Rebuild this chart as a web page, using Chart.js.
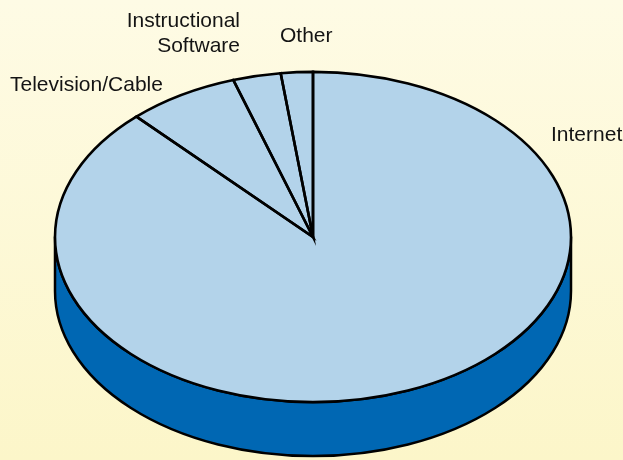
<!DOCTYPE html>
<html><head><meta charset="utf-8">
<script src="https://cdn.jsdelivr.net/npm/chart.js@4.4.1/dist/chart.umd.min.js"></script>
<style>
html,body{margin:0;padding:0;}
body{width:623px;height:460px;background:linear-gradient(180deg,#fefbe5 0%,#fcf6c9 100%);overflow:hidden;}
canvas{display:block;}
</style></head><body>
<canvas id="c" width="623" height="460"></canvas>
<script>
// ---- data ----
const categories = ['Internet', 'Television/Cable', 'Instructional Software', 'Other'];
const shares = [88, 7, 3, 2];
const labelLines = [['Internet'], ['Television/Cable'], ['Instructional', 'Software'], ['Other']];

// ---- style / layout ----
const TOP_COLOR = '#b3d3ea';
const SIDE_COLOR = '#0067b3';
const EDGE = '#000000';
const TILT = 0.64;     // vertical squash of the pie top
const DEPTH = 54;      // thickness of the pie in px
const RADIUS = 258;
const labelAnchors = [
  {x: 551, y: 141, align: 'left'},
  {x: 10,  y: 91,  align: 'left'},
  {x: 240, y: 27,  align: 'right'},
  {x: 280, y: 42,  align: 'left'}
];
const LABEL_FONT = '21px "Liberation Sans", Arial, Helvetica, sans-serif';
const LINE_H = 25;

function geom(a) {
  return a.getProps(['x', 'y', 'outerRadius', 'startAngle', 'endAngle'], true);
}
function squash(ctx, x, y) {
  ctx.translate(x, y); ctx.scale(1, TILT); ctx.translate(-x, -y);
}

const pie3d = {
  id: 'pie3d',
  beforeDatasetsDraw(chart) {
    const ctx = chart.ctx;
    const arcs = chart.getDatasetMeta(0).data;
    // side walls (front half only)
    arcs.forEach(a => {
      const g = geom(a);
      const ry = g.outerRadius * TILT;
      for (let k = -1; k <= 2; k++) {
        const lo = Math.max(g.startAngle, 2 * Math.PI * k);
        const hi = Math.min(g.endAngle, 2 * Math.PI * k + Math.PI);
        if (hi > lo) {
          ctx.save();
          ctx.beginPath();
          ctx.ellipse(g.x, g.y, g.outerRadius, ry, 0, lo, hi, false);
          ctx.ellipse(g.x, g.y + DEPTH, g.outerRadius, ry, 0, hi, lo, true);
          ctx.closePath();
          ctx.fillStyle = SIDE_COLOR;
          ctx.fill();
          ctx.lineWidth = 2.5;
          ctx.lineJoin = 'round';
          ctx.strokeStyle = EDGE;
          ctx.stroke();
          ctx.restore();
        }
      }
    });
    const g0 = geom(arcs[0]);
    ctx.save();
    squash(ctx, g0.x, g0.y);
  },
  afterDatasetsDraw(chart) {
    const ctx = chart.ctx;
    ctx.restore();
    const arcs = chart.getDatasetMeta(0).data;
    // slice outlines with uniform line width
    arcs.forEach(a => {
      const g = geom(a);
      ctx.save();
      squash(ctx, g.x, g.y);
      ctx.beginPath();
      ctx.moveTo(g.x, g.y);
      ctx.arc(g.x, g.y, g.outerRadius, g.startAngle, g.endAngle, false);
      ctx.closePath();
      ctx.restore();
      ctx.save();
      ctx.lineWidth = 2.6;
      ctx.lineJoin = 'miter';
      ctx.strokeStyle = EDGE;
      ctx.stroke();
      ctx.restore();
    });
    // category labels
    ctx.save();
    ctx.font = LABEL_FONT;
    ctx.fillStyle = '#141414';
    ctx.textBaseline = 'alphabetic';
    labelLines.forEach((lines, i) => {
      const p = labelAnchors[i];
      ctx.textAlign = p.align;
      lines.forEach((t, j) => ctx.fillText(t, p.x, p.y + j * LINE_H));
    });
    ctx.restore();
  }
};

new Chart(document.getElementById('c'), {
  type: 'pie',
  data: {
    labels: categories,
    datasets: [{
      data: shares,
      backgroundColor: TOP_COLOR,
      borderWidth: 0,
      radius: RADIUS
    }]
  },
  options: {
    responsive: false,
    animation: false,
    events: [],
    layout: {padding: {left: 3, right: 0, top: 14, bottom: 0}},
    plugins: {legend: {display: false}, tooltip: {enabled: false}}
  },
  plugins: [pie3d]
});
</script>
</body></html>
